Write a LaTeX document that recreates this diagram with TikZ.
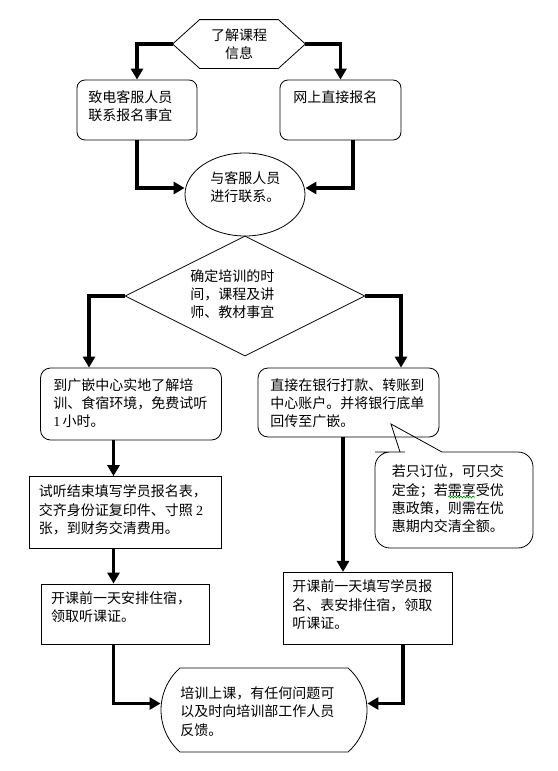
\documentclass[tikz,border=0pt]{standalone}
\usepackage{fontspec}
\setmainfont{Noto Sans CJK SC}
\newfontfamily\numfont{Liberation Serif}
\usetikzlibrary{arrows.meta,shapes.geometric,shapes.misc,decorations.pathmorphing}
\begin{document}
\begin{tikzpicture}[
    x = 1pt, y = -1pt,
    line width = 0.8pt,
    rbox/.style = {draw, rounded corners = 8pt, inner sep = 0pt},
    sbox/.style = {draw, inner sep = 0pt},
    txt/.style = {anchor = north west, inner sep = 0pt, align = left,
                  font = \fontsize{14pt}{18.3pt}\selectfont},
    flow/.style = {line width = 3.5pt, -{Triangle[length = 11pt, width = 12pt]}}]

\useasboundingbox (0,0) rectangle (557,771);

\node[txt, anchor = center, align = center, minimum width = 132pt, minimum height = 48pt] (info) at (239,44) {了解课程\\信息};
\draw (info.west) -- ([xshift = 27pt]info.north west) -- ([xshift = -27pt]info.north east) --
      (info.east) -- ([xshift = -27pt]info.south east) -- ([xshift = 27pt]info.south west) -- cycle;

\node[rbox, minimum width = 120pt, minimum height = 60pt] (phone) at (137,110) {};
\node[rbox, minimum width = 121pt, minimum height = 60pt] (online) at (340.5,110) {};
\node[draw, ellipse, inner sep = 0pt, minimum width = 120pt, minimum height = 83pt] (contact) at (245,194.5) {};
\node[draw, diamond, inner sep = 0pt, minimum width = 240pt, minimum height = 120pt] (decide) at (245,296) {};
\node[rbox, rounded corners = 10pt, minimum width = 181pt, minimum height = 72pt] (visit) at (131,404) {};
\node[rbox, rounded corners = 10pt, minimum width = 181pt, minimum height = 69pt] (bank) at (348.5,402.5) {};
\node[sbox, minimum width = 192pt, minimum height = 72pt] (trial) at (125.5,512.5) {};
\node[sbox, minimum width = 168pt, minimum height = 60pt] (stay) at (125.5,614) {};
\node[sbox, minimum width = 169pt, minimum height = 72pt] (fill) at (367.5,608.3) {};
\node[draw, rounded rectangle, rounded rectangle arc length = 97, inner sep = 0pt,
      minimum width = 206pt, minimum height = 84pt] (term) at (264,710) {};

\path (88,90) node[txt] (phonet) {致电客服人员\\联系报名事宜}
      (293,90) node[txt] (onlinet) {网上直接报名}
      (210,171) node[txt] (contactt) {与客服人员\\进行联系。}
      (190,269) node[txt] (decidet) {确定培训的时\\间，课程及讲\\师、教材事宜}
      (53,378) node[txt] (visitt) {到广嵌中心实地了解培\\训、食宿环境，免费试听\\{\numfont 1}\,小时。}
      (270,378) node[txt] (bankt) {直接在银行打款、转账到\\中心账户。并将银行底单\\回传至广嵌。}
      (38.5,484.7) node[txt] (trialt) {试听结束填写学员报名表，\\交齐身份证复印件、寸照 {\numfont 2}\\张，到财务交清费用。}
      (391.5,464.7) node[txt] (notet) {若只订位，可只交\\定金；若需享受优\\惠政策，则需在优\\惠期内交清全额。}
      (292,579.7) node[txt] (fillt) {开课前一天填写学员报\\名、表安排住宿，领取\\听课证。}
      (50.7,591.3) node[txt] (stayt) {开课前一天安排住宿，\\领取听课证。}
      (180,686.3) node[txt] (termt) {培训上课，有任何问题可\\以及时向培训部工作人员\\反馈。};

\draw (391,424) -- (442,452) -- (455,452) [rounded corners = 15pt] -- (533,452) -- (533,548) --
      (375,548) -- (375,452) -- (390,452) [sharp corners] -- (400,452) -- cycle;
\draw[green!50!black, line width = 0.6pt, decorate,
      decoration = {snake, amplitude = 0.9pt, segment length = 3pt}] (448,497) -- (475,497);

\draw[flow] (info.west) -| (phone.north);
\draw[flow] (info.east) -| (online.north);
\draw[flow] (phone.south) |- ([yshift = 6.5pt]contact.west);
\draw[flow] ([xshift = 12.5pt]online.south) |- ([yshift = 6.5pt]contact.east);
\draw[flow] (decide.west) -| ([xshift = -42pt]visit.north);
\draw[flow] (decide.east) -| ([xshift = 52.5pt]bank.north);
\draw[flow] ([xshift = -17.5pt]visit.south) -- ([xshift = -12pt]trial.north);
\draw[flow] ([xshift = -12pt]trial.south) -- ([xshift = -12pt]stay.north);
\draw[flow] ([xshift = -12pt]stay.south) |- ([yshift = 6.5pt]term.west);
\draw[flow] ([xshift = -5.5pt]bank.south) -- ([xshift = -24.5pt]fill.north);
\draw[flow] ([xshift = 35.5pt]fill.south) |- ([yshift = 6.5pt]term.east);
\end{tikzpicture}
\end{document}
